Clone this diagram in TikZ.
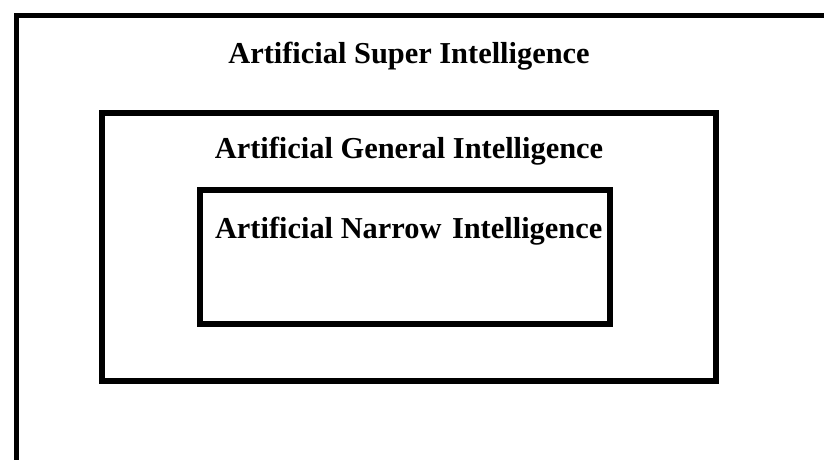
\documentclass[tikz,border=0pt]{standalone}
\usepackage{fontspec}
\setmainfont{Liberation Serif}
\begin{document}
\begin{tikzpicture}[x=1pt,y=-1pt,
  box/.style={draw=black,line width=5.5pt,rectangle,inner sep=0pt,outer sep=0pt},
  lbl/.style={inner sep=0pt,outer sep=0pt,font=\fontsize{30.4}{34}\selectfont\bfseries}]
\useasboundingbox (0,0) rectangle (824,459);
\clip (0,0) rectangle (824,459);
\node[box,minimum width=883.5pt,minimum height=504.5pt] (asi) at (458.25,267.75) {};
\node[box,minimum width=614pt,minimum height=268pt] (agi) at (409,247) {};
\node[box,minimum width=410pt,minimum height=134pt] (ani) at (405,257) {};
\node[lbl,anchor=base] (tasi) at (409,63) {Artificial Super Intelligence};
\node[lbl,anchor=base] (tagi) at (409,158) {Artificial General Intelligence};
\node[lbl,anchor=base west] (tani1) at (215,238) {Artificial Narrow};
\node[lbl,anchor=base west] (tani2) at (452,238) {Intelligence};
\end{tikzpicture}
\end{document}
